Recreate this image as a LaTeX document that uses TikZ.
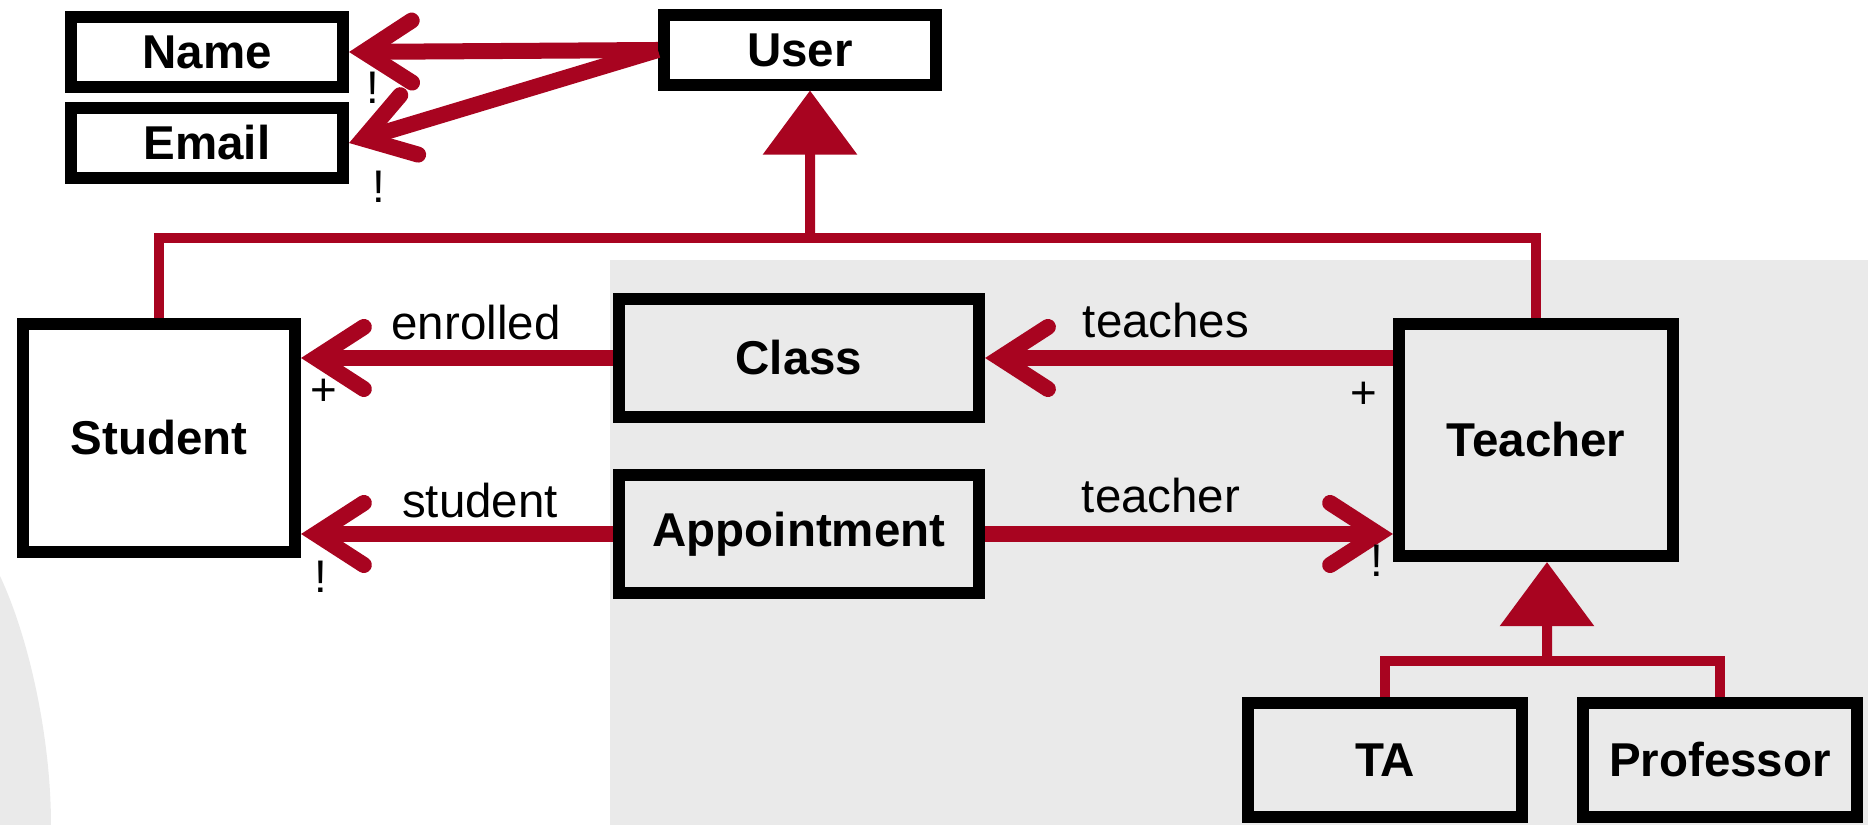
\documentclass[tikz,border=0pt]{standalone}
\usepackage{fontspec}
\setmainfont{Liberation Sans}
\usetikzlibrary{arrows.meta}

\definecolor{linkred}{RGB}{168,4,32}
\definecolor{panelgray}{RGB}{234,234,234}

\begin{document}
\begin{tikzpicture}[
    x = 0.01cm, y = -0.01cm,
    every node/.style = {font = \fontsize{13.5}{16}\selectfont},
    entity/.style = {
        draw, line width = 0.12cm, inner sep = 0pt,
        font = \fontsize{13.5}{16}\bfseries\selectfont,
        minimum width = 2.72cm, minimum height = 0.69cm
    },
    assoc/.style = {
        draw = linkred, line width = 0.16cm,
        -{Straight Barb[length = 0.48cm, width = 0.62cm, line cap = round, line join = miter]}
    },
    genline/.style = {draw = linkred, line width = 0.10cm},
    isa/.style = {
        genline,
        -{Triangle[length = 0.64cm, width = 0.92cm]}
    },
    mult/.style = {font = \fontsize{13}{15}\selectfont, inner sep = 0pt},
    role/.style = {anchor = base, inner sep = 0pt}
]

\useasboundingbox (0,0) rectangle (1868,825);

\fill[panelgray] (610,260) rectangle (1868,825);
\fill[panelgray] (0,576) .. controls (30,640) and (51,740) .. (51,825) -- (0,825) -- cycle;

\node[entity] (name) at (207,52) {Name};
\node[entity] (email) at (207,143) {Email};
\node[entity] (user) at (800,50) {User};
\node[entity, minimum height = 2.28cm] (student) at (159,438) {Student};
\node[entity, minimum width = 3.60cm, minimum height = 1.18cm] (class) at (799,358) {Class};
\node[entity, minimum width = 3.60cm, minimum height = 1.18cm] (appointment) at (799,534) {Appointment};
\node[entity, minimum width = 2.74cm, minimum height = 2.32cm] (teacher) at (1536,440) {Teacher};
\node[entity, minimum width = 2.74cm, minimum height = 1.14cm] (ta) at (1385,760) {TA};
\node[entity, minimum width = 2.74cm, minimum height = 1.14cm] (professor) at (1720,760) {Professor};

\coordinate (userjoin) at (810,238);
\coordinate (teacherjoin) at (1547,661);

\draw[genline] (student.north) |- (userjoin) -| (teacher.north);
\draw[isa] (userjoin) -- ([xshift = 0.1cm]user.south);
\draw[genline] (ta.north) |- (teacherjoin) -| (professor.north);
\draw[isa] (teacherjoin) -- ([xshift = 0.11cm]teacher.south);

\draw[assoc] (user.west) -- (name.east);
\draw[assoc] (user.west) -- (email.east);
\draw[assoc] (class.west) -- (class.west -| student.east);
\draw[assoc] (appointment.west) -- (appointment.west -| student.east);
\draw[assoc] (class.east -| teacher.west) -- (class.east);
\draw[assoc] (appointment.east) -- (appointment.east -| teacher.west);

\node[role] (enrolledlabel) at (476,340) {enrolled};
\node[role] (studentlabel) at (480,518) {student};
\node[role] (teacheslabel) at (1166,338) {teaches};
\node[role] (teacherlabel) at (1161,513) {teacher};

\node[mult] (namemult) at (373,88) {!};
\node[mult] (emailmult) at (379,187) {!};
\node[mult] (enrolledmult) at (324,392) {+};
\node[mult] (studentmult) at (321,577) {!};
\node[mult] (teachesmult) at (1364,395) {+};
\node[mult] (teachermult) at (1377,561) {!};

\end{tikzpicture}
\end{document}
